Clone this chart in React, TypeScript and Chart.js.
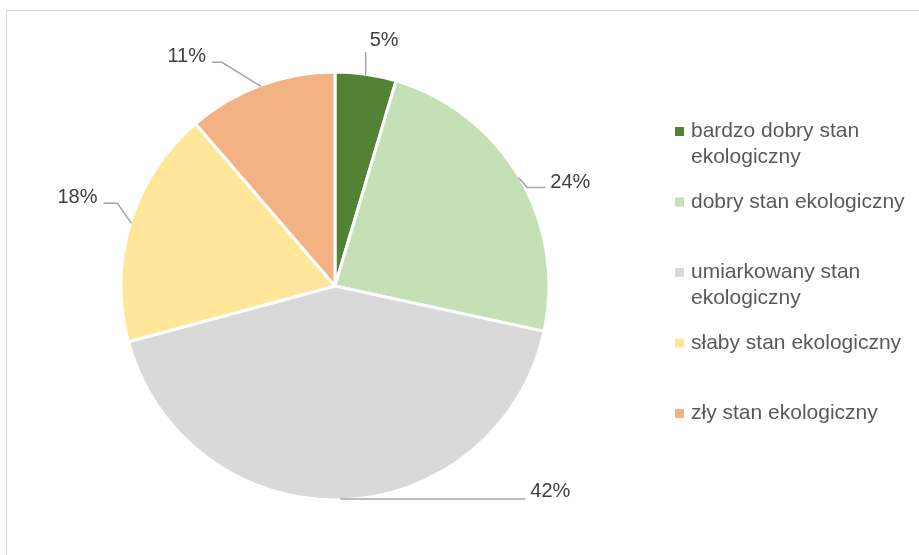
import React, { useEffect, useRef } from "react";
import { Chart, registerables } from "chart.js";

Chart.register(...registerables);

const categories = [
  "bardzo dobry stan ekologiczny",
  "dobry stan ekologiczny",
  "umiarkowany stan ekologiczny",
  "słaby stan ekologiczny",
  "zły stan ekologiczny",
];
const values = [4.6, 23.8, 42.4, 17.9, 11.3];
const colors = ["#548235", "#C5E0B4", "#D9D9D9", "#FFE699", "#F4B183"];

// leader-line geometry relative to the slice's outer edge point
const leaders = [
  { pts: [[0, -23]], text: [4, -35], align: "left" },
  { pts: [[9, 10], [27, 10]], text: [32, 5], align: "left" },
  { pts: [[185, 0]], text: [190, -7], align: "left" },
  { pts: [[-14, -20], [-28, -20]], text: [-34, -26], align: "right" },
  { pts: [[-39, -24], [-49, -24]], text: [-55, -30], align: "right" },
];

const FONT = '20px "Liberation Sans", Arial, sans-serif';
const LEGEND_FONT = '21px "Liberation Sans", Arial, sans-serif';

function wrap(ctx: CanvasRenderingContext2D, text: string, maxW: number): string[] {
  const words = text.split(" ");
  const lines: string[] = [];
  let cur = "";
  for (const w of words) {
    const t = cur ? cur + " " + w : w;
    if (ctx.measureText(t).width > maxW && cur) {
      lines.push(cur);
      cur = w;
    } else cur = t;
  }
  if (cur) lines.push(cur);
  return lines;
}

const framePlugin = {
  id: "frame",
  beforeDraw(chart: any) {
    const ctx = chart.ctx;
    ctx.save();
    ctx.strokeStyle = "#D9D9D9";
    ctx.lineWidth = 1;
    ctx.strokeRect(6.5, 10.5, 1000, 1000);
    ctx.restore();
  },
};

const labelPlugin = {
  id: "pieLabels",
  afterDatasetsDraw(chart: any) {
    const ctx = chart.ctx;
    const meta = chart.getDatasetMeta(0);
    const data = chart.data.datasets[0].data as number[];
    ctx.save();
    ctx.font = FONT;
    meta.data.forEach((arc: any, i: number) => {
      const { x, y, startAngle, endAngle, outerRadius } = arc.getProps(
        ["x", "y", "startAngle", "endAngle", "outerRadius"],
        true
      );
      const a = (startAngle + endAngle) / 2;
      const ex = x + (outerRadius - 1) * Math.cos(a);
      const ey = y + (outerRadius - 1) * Math.sin(a);
      const spec = leaders[i];
      ctx.strokeStyle = "#A6A6A6";
      ctx.lineWidth = 1.5;
      ctx.beginPath();
      ctx.moveTo(ex, ey);
      spec.pts.forEach((p) => ctx.lineTo(ex + p[0], ey + p[1]));
      ctx.stroke();
      ctx.fillStyle = "#404040";
      ctx.textAlign = spec.align as CanvasTextAlign;
      ctx.textBaseline = "middle";
      ctx.fillText(Math.round(data[i]) + "%", ex + spec.text[0], ey + spec.text[1]);
    });
    ctx.restore();
  },
  afterDraw(chart: any) {
    const ctx = chart.ctx;
    const labels = chart.data.labels as string[];
    const bg = chart.data.datasets[0].backgroundColor as string[];
    ctx.save();
    ctx.font = LEGEND_FONT;
    ctx.textAlign = "left";
    ctx.textBaseline = "middle";
    labels.forEach((lab, i) => {
      const y0 = 131.5 + i * 70.5;
      ctx.fillStyle = bg[i];
      ctx.fillRect(675, y0 - 4.5, 9, 9);
      ctx.fillStyle = "#595959";
      const lines = wrap(ctx, lab, 222);
      lines.forEach((ln, k) => ctx.fillText(ln, 691, y0 + k * 26));
    });
    ctx.restore();
  },
};

export default function App() {
  const ref = useRef<HTMLCanvasElement | null>(null);
  useEffect(() => {
    if (!ref.current) return;
    const chart = new Chart(ref.current, {
      type: "pie",
      data: {
        labels: categories,
        datasets: [
          {
            data: values,
            backgroundColor: colors,
            borderColor: "#FFFFFF",
            borderWidth: 3,
            radius: 214,
          } as any,
        ],
      },
      options: {
        animation: false,
        responsive: false,
        layout: { padding: { left: 100, right: 349, top: 60, bottom: 43 } },
        plugins: {
          legend: { display: false },
          tooltip: { enabled: false },
          title: { display: false },
        },
      },
      plugins: [framePlugin, labelPlugin],
    });
    return () => chart.destroy();
  }, []);
  return (
    <div style={{ position: "fixed", left: 0, top: 0, width: 919, height: 555, background: "#fff" }}>
      <canvas ref={ref} width={919} height={555} style={{ width: 919, height: 555, display: "block" }} />
    </div>
  );
}
